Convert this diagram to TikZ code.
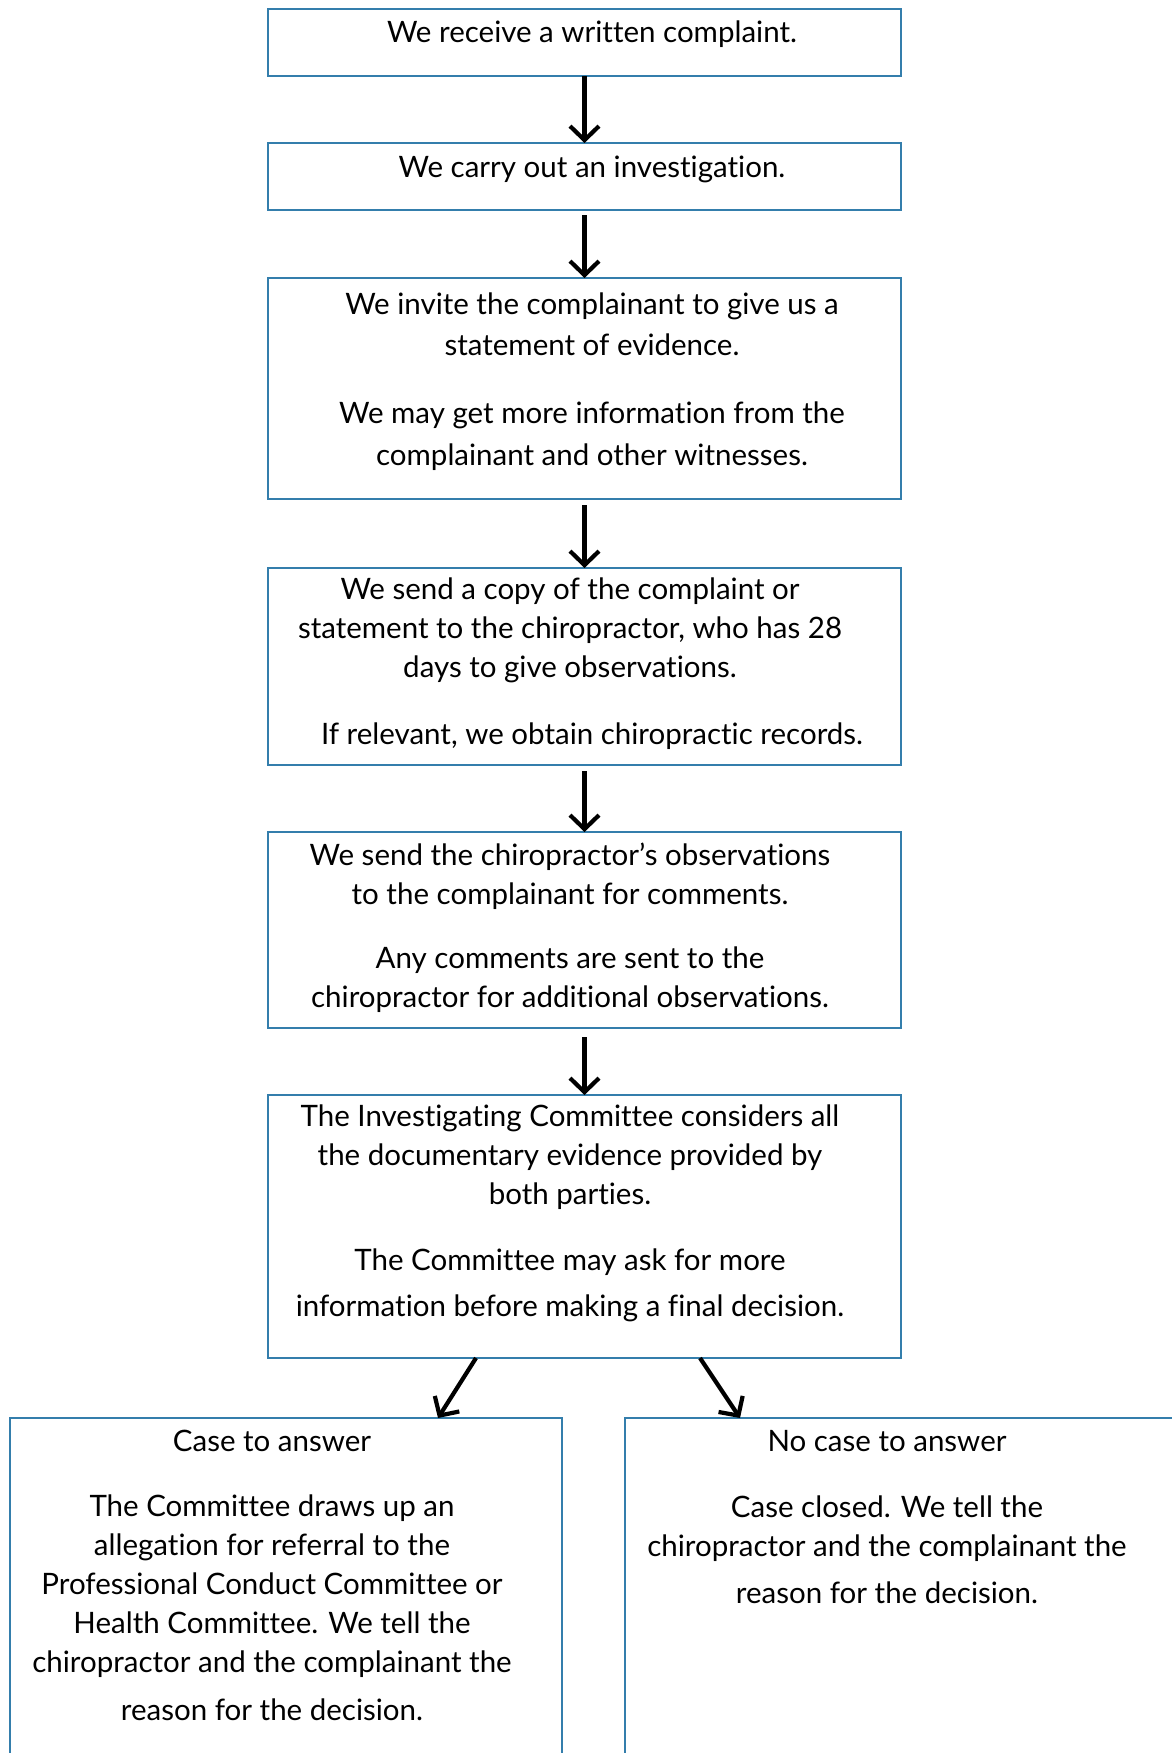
\documentclass[tikz,border=0pt]{standalone}
\usepackage{fontspec}
\setmainfont[Ligatures=NoCommon]{Lato}
\usetikzlibrary{arrows.meta,calc}
\definecolor{boxblue}{RGB}{52,126,172}
\begin{document}
\begin{tikzpicture}[x=1pt,y=-1pt,
  flowbox/.style={draw=boxblue,line width=1.4pt,rectangle,anchor=north west,inner sep=0pt,outer sep=0pt},
  txt/.style={align=center,inner sep=0pt,font=\fontsize{29.5}{39}\selectfont},
  arr/.style={draw=black,line width=4.2pt,-{Straight Barb[length=14pt,width=29pt]}}]
\useasboundingbox (0,0) rectangle (1172,1753);
\clip (0,0) rectangle (1172,1753);
\fill[white] (0,0) rectangle (1172,1753);
% boxes
\node[flowbox,minimum width=633pt,minimum height=67pt] (b1) at (268,9) {};
\node[flowbox,minimum width=633pt,minimum height=67pt] (b2) at (268,143) {};
\node[flowbox,minimum width=633pt,minimum height=221pt] (b3) at (268,278) {};
\node[flowbox,minimum width=633pt,minimum height=197pt] (b4) at (268,568) {};
\node[flowbox,minimum width=633pt,minimum height=196pt] (b5) at (268,832) {};
\node[flowbox,minimum width=633pt,minimum height=263pt] (b6) at (268,1095) {};
\node[flowbox,minimum width=552pt,minimum height=420pt] (b7) at (10,1418) {};
\node[flowbox,minimum width=580pt,minimum height=420pt] (b8) at (625,1418) {};
% texts
\node[txt] (t1) at (592,34) {We receive a written complaint.};
\node[txt] (t2) at (592,169) {We carry out an investigation.};
\node[txt] (t3a) at (592,324.5) {We invite the complainant to give us a\\[2pt]statement of evidence.};
\node[txt] (t3b) at (592,436) {We may get more information from the\\[3.5pt]complainant and other witnesses.};
\node[txt] (t4a) at (570,630.5) {We send a copy of the complaint or\\statement to the chiropractor, who has 28\\days to give observations.};
\node[txt] (t4b) at (592,736) {If relevant, we obtain chiropractic records.};
\node[txt] (t5a) at (570,876) {We send the chiropractor’s observations\\to the complainant for comments.};
\node[txt] (t5b) at (570,980) {Any comments are sent to the\\chiropractor for additional observations.};
\node[txt] (t6a) at (570,1157.5) {The Investigating Committee considers all\\the documentary evidence provided by\\both parties.};
\node[txt] (t6b) at (570,1285.5) {The Committee may ask for more\\[7pt]information before making a final decision.};
\node[txt] (t7a) at (272,1441) {Case to answer};
\node[txt] (t7b) at (272,1607.5) {The Committee draws up an\\allegation for referral to the\\Professional Conduct Committee or\\Health Committee. We tell the\\chiropractor and the complainant the\\[8.5pt]reason for the decision.};
\node[txt] (t8a) at (887,1441) {No case to answer};
\node[txt] (t8b) at (887,1549.5) {Case closed. We tell the\\chiropractor and the complainant the\\[8pt]reason for the decision.};
% arrows
\draw[arr] (b1.south) -- (b2.north);
\draw[arr,shorten <=5pt] (b2.south) -- (b3.north);
\draw[arr,shorten <=6pt] (b3.south) -- (b4.north);
\draw[arr,shorten <=6pt] (b4.south) -- (b5.north);
\draw[arr,shorten <=9pt] (b5.south) -- (b6.north);
\draw[arr] ($(b6.south west)+(208,0)$) -- ($(b7.north west)+(428,0)$);
\draw[arr] ($(b6.south west)+(432,0)$) -- ($(b8.north west)+(115,0)$);
\end{tikzpicture}
\end{document}
